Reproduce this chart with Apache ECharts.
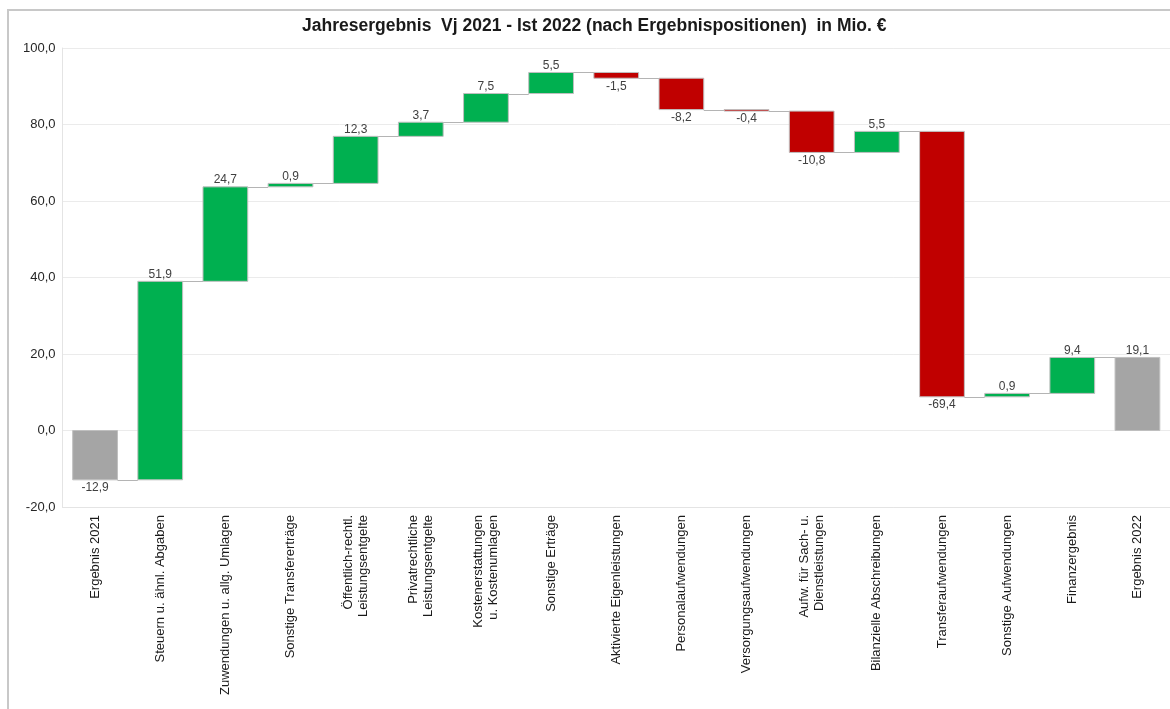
<!DOCTYPE html>
<html>
<head>
<meta charset="utf-8">
<title>Jahresergebnis Vj 2021 - Ist 2022</title>
<script src="https://cdn.jsdelivr.net/npm/echarts@6/dist/echarts.min.js"></script>
<style>
  html, body { margin: 0; padding: 0; background: #fff; }
  #main { width: 1170px; height: 709px; }
</style>
</head>
<body>
<div id="main"></div>
<script>
// Kategorien (x-Achse)
var categories = [
    'Ergebnis 2021',
    'Steuern u. ähnl. Abgaben',
    'Zuwendungen u. allg. Umlagen',
    'Sonstige Transfererträge',
    'Öffentlich-rechtl.\nLeistungsentgelte',
    'Privatrechtliche\nLeistungsentgelte',
    'Kostenerstattungen\nu. Kostenumlagen',
    'Sonstige Erträge',
    'Aktivierte Eigenleistungen',
    'Personalaufwendungen',
    'Versorgungsaufwendungen',
    'Aufw. für Sach- u.\nDienstleistungen',
    'Bilanzielle Abschreibungen',
    'Transferaufwendungen',
    'Sonstige Aufwendungen',
    'Finanzergebnis',
    'Ergebnis 2022'
];

// Veränderungen in Mio. € (Summenbalken: Wert ab 0)
var deltas = [-12.9, 51.9, 24.7, 0.9, 12.3, 3.7, 7.5, 5.5, -1.5, -8.2, -0.4, -10.8, 5.5, -69.4, 0.9, 9.4, 19.1];
var isTotal = [true, false, false, false, false, false, false, false, false, false, false, false, false, false, false, false, true];

var yTicks = { min: -20, max: 100, interval: 20 };

var colors = {
    up: '#00b050',
    down: '#c00000',
    total: '#a5a5a5',
    border: '#bfbfbf',
    connector: '#b4b4b4'
};

function fmt(v) {
    return v.toFixed(1).replace('.', ',');
}

// Start/Ende je Balken aus den Veränderungen
function buildSteps() {
    var rows = [];
    var run = 0;
    for (var i = 0; i < deltas.length; i++) {
        var start, end;
        if (isTotal[i]) {
            start = 0;
            end = deltas[i];
        } else {
            start = run;
            end = run + deltas[i];
        }
        run = end;
        rows.push([i, start, end, deltas[i]]);
    }
    return rows;
}

function renderItem(params, api) {
    var idx = params.dataIndex;
    var i = api.value(0);
    var s = api.value(1);
    var e = api.value(2);
    var v = api.value(3);
    var bw = api.size([1, 0])[0] * 0.687;
    var pS = api.coord([i, s]);
    var pE = api.coord([i, e]);
    var top = Math.min(pS[1], pE[1]);
    var bottom = Math.max(pS[1], pE[1]);
    var fill = isTotal[idx] ? colors.total : (v >= 0 ? colors.up : colors.down);

    var children = [{
        type: 'rect',
        shape: { x: pS[0] - bw / 2, y: top, width: bw, height: Math.max(bottom - top, 1) },
        style: { fill: fill, stroke: colors.border, lineWidth: 1 }
    }];

    if (idx < deltas.length - 1) {
        var pN = api.coord([i + 1, e]);
        var ly = Math.round(pE[1]) + 0.5;
        children.push({
            type: 'line',
            shape: { x1: pE[0] + bw / 2, y1: ly, x2: pN[0] - bw / 2, y2: ly },
            style: { stroke: colors.connector, lineWidth: 1 },
            z2: -1
        });
    }

    var above = v >= 0;
    children.push({
        type: 'text',
        style: {
            text: fmt(v),
            x: pS[0],
            y: above ? top - 1 : bottom + 2,
            align: 'center',
            verticalAlign: above ? 'bottom' : 'top',
            fill: '#404040',
            font: '12px "Liberation Sans", Arial, sans-serif'
        }
    });

    return { type: 'group', children: children };
}

var chart = echarts.init(document.getElementById('main'));

var option = {
    animation: false,
    backgroundColor: '#ffffff',
    textStyle: { fontFamily: '"Liberation Sans", Arial, sans-serif' },
    title: {
        text: 'Jahresergebnis  Vj 2021 - Ist 2022 (nach Ergebnispositionen)  in Mio. €',
        left: 302,
        top: 17,
        padding: 0,
        textStyle: {
            fontSize: 17.5,
            fontWeight: 'bold',
            color: '#1a1a1a',
            fontFamily: '"Liberation Sans", Arial, sans-serif'
        }
    },
    graphic: [{
        type: 'rect',
        shape: { x: 8, y: 10, width: 1200, height: 800 },
        style: { fill: 'none', stroke: '#c8c8c8', lineWidth: 2 },
        silent: true
    }],
    grid: {
        left: 62.5,
        top: 48,
        width: 1114,
        height: 459,
        containLabel: false
    },
    xAxis: {
        type: 'category',
        data: categories,
        axisTick: { show: false },
        axisLine: { onZero: false, lineStyle: { color: '#e4e4e4', width: 1 } },
        axisLabel: {
            interval: 0,
            rotate: 90,
            margin: 8,
            fontSize: 13,
            lineHeight: 15,
            color: '#1a1a1a'
        }
    },
    yAxis: {
        type: 'value',
        min: yTicks.min,
        max: yTicks.max,
        interval: yTicks.interval,
        axisLine: { show: true, lineStyle: { color: '#e4e4e4' } },
        axisTick: { show: false },
        axisLabel: {
            margin: 7,
            fontSize: 13,
            color: '#262626',
            formatter: function (v) { return fmt(v); }
        },
        splitLine: { lineStyle: { color: '#ebebeb', width: 1 } }
    },
    series: [{
        type: 'custom',
        renderItem: renderItem,
        encode: { x: 0, y: [1, 2] },
        data: buildSteps(),
        clip: false
    }]
};

chart.setOption(option);
</script>
</body>
</html>
